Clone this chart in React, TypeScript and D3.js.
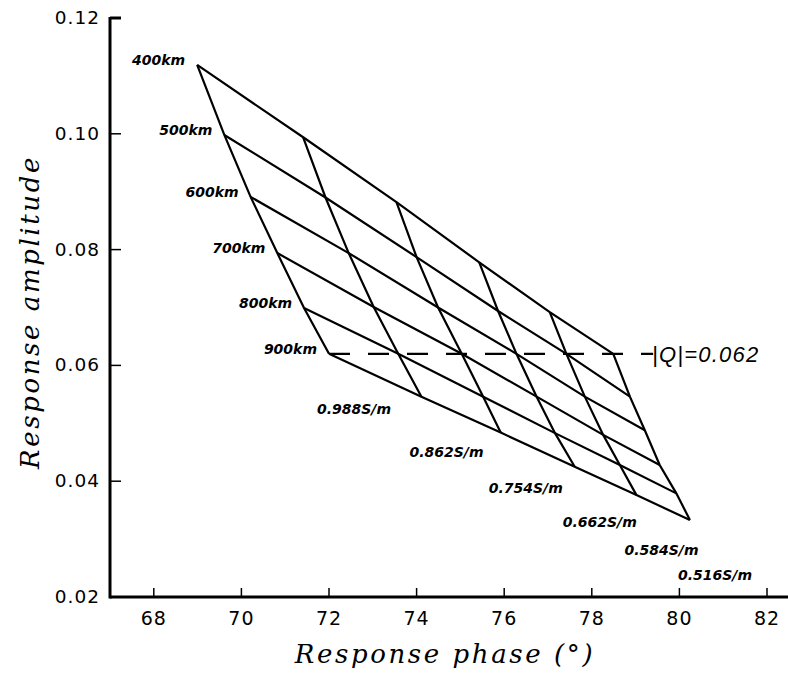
import React from "react";
import * as d3 from "d3";

// Depth labels (constant-depth curves) and conductivity labels (constant-conductivity curves)
const depthLabels = ["400km", "500km", "600km", "700km", "800km", "900km"];
const conductivityLabels = ["0.988S/m", "0.862S/m", "0.754S/m", "0.662S/m", "0.584S/m", "0.516S/m"];

// Response phase (deg) for each conductivity, ordered 400km..900km
const phase0988 = [68.99, 69.61, 70.21, 70.82, 71.43, 72.0];
const phase0862 = [71.41, 71.92, 72.45, 73.02, 73.58, 74.11];
const phase0754 = [73.54, 74.0, 74.49, 75.03, 75.52, 75.92];
const phase0662 = [75.43, 75.86, 76.28, 76.74, 77.16, 77.61];
const phase0584 = [77.04, 77.42, 77.84, 78.26, 78.64, 79.02];
const phase0516 = [78.49, 78.87, 79.21, 79.55, 79.93, 80.24];

// Response amplitude for each conductivity, ordered 400km..900km
const amp0988 = [0.1119, 0.0998, 0.0891, 0.0794, 0.0699, 0.062];
const amp0862 = [0.0994, 0.089, 0.0794, 0.0701, 0.062, 0.0546];
const amp0754 = [0.0882, 0.0787, 0.07, 0.062, 0.0546, 0.0484];
const amp0662 = [0.0778, 0.0694, 0.062, 0.0546, 0.0483, 0.0425];
const amp0584 = [0.0692, 0.062, 0.0546, 0.048, 0.0428, 0.0376];
const amp0516 = [0.062, 0.0546, 0.0488, 0.0428, 0.0379, 0.0333];

const xTicks = [68, 70, 72, 74, 76, 78, 80, 82];
const yTicks = [0.02, 0.04, 0.06, 0.08, 0.1, 0.12];

const qValue = 0.062;
const qPhaseStart = 72.0;
const qPhaseEnd = 79.4;
const qLabel = "|Q|=0.062";

const phases = [phase0988, phase0862, phase0754, phase0662, phase0584, phase0516];
const amps = [amp0988, amp0862, amp0754, amp0662, amp0584, amp0516];

export default function App() {
  const W = 788;
  const H = 675;
  const x = d3.scaleLinear().domain([67, 83]).range([110, 110 + 16 * 43.8]);
  const y = d3.scaleLinear().domain([0.02, 0.12]).range([597, 18]);

  const line = d3
    .line<[number, number]>()
    .x((d) => x(d[0]))
    .y((d) => y(d[1]));

  // conductivity curves
  const condPaths = phases.map((ph, c) => line(ph.map((p, i) => [p, amps[c][i]]) as [number, number][]));
  // depth curves
  const depthPaths = depthLabels.map((_, dIdx) =>
    line(phases.map((ph, c) => [ph[dIdx], amps[c][dIdx]]) as [number, number][])
  );

  const labelFont = "'DejaVu Sans', sans-serif";
  const serif = "'DejaVu Serif', serif";

  return (
    <svg
      width={W}
      height={H}
      style={{ position: "absolute", left: 0, top: 0, background: "#fff" }}
    >
      <rect x={0} y={0} width={W} height={H} fill="#fff" />
      {/* grid curves */}
      <g fill="none" stroke="#000" strokeWidth={2.2}>
        {condPaths.map((d, i) => (
          <path key={"c" + i} d={d || ""} />
        ))}
        {depthPaths.map((d, i) => (
          <path key={"d" + i} d={d || ""} />
        ))}
      </g>
      {/* |Q| dashed line */}
      <line
        x1={x(qPhaseStart)}
        x2={x(qPhaseEnd)}
        y1={y(qValue)}
        y2={y(qValue)}
        stroke="#000"
        strokeWidth={2.2}
        strokeDasharray="21,18"
      />
      <text
        x={x(qPhaseEnd) - 1}
        y={y(qValue) + 8}
        fontFamily="'Liberation Sans', sans-serif"
        fontStyle="italic"
        fontSize={22}
        letterSpacing={1.2}
      >
        {qLabel}
      </text>
      {/* depth labels */}
      {depthLabels.map((lab, i) => (
        <text
          key={lab}
          x={x(phase0988[i]) - 12}
          y={y(amp0988[i])}
          textAnchor="end"
          fontFamily={labelFont}
          fontWeight="bold"
          fontStyle="italic"
          fontSize={14}
        >
          {lab}
        </text>
      ))}
      {/* conductivity labels */}
      {conductivityLabels.map((lab, c) => (
        <text
          key={lab}
          x={x(phases[c][5]) - 12}
          y={y(amps[c][5]) + 60}
          fontFamily={labelFont}
          fontWeight="bold"
          fontStyle="italic"
          fontSize={14}
        >
          {lab}
        </text>
      ))}
      {/* axes */}
      <g stroke="#000">
        <line x1={x.range()[0]} x2={W + 10} y1={y(0.02)} y2={y(0.02)} strokeWidth={3} />
        <line x1={x.range()[0]} x2={x.range()[0]} y1={y(0.12) - 1} y2={y(0.02) + 1.5} strokeWidth={3} />
        {xTicks.map((t) => (
          <line key={"xt" + t} x1={x(t)} x2={x(t)} y1={y(0.02)} y2={y(0.02) - 9} strokeWidth={1.5} />
        ))}
        {yTicks.map((t) => (
          <line key={"yt" + t} x1={x.range()[0]} x2={x.range()[0] + 11} y1={y(t)} y2={y(t)} strokeWidth={t === 0.12 ? 3 : 1.5} />
        ))}
      </g>
      {xTicks.map((t) => (
        <text
          key={"xl" + t}
          x={x(t)}
          y={y(0.02) + 28}
          textAnchor="middle"
          fontFamily={labelFont}
          fontSize={19}
          letterSpacing={1}
        >
          {t}
        </text>
      ))}
      {yTicks.map((t) => (
        <text
          key={"yl" + t}
          x={100}
          y={y(t) + 6}
          textAnchor="end"
          fontFamily={labelFont}
          fontSize={18.5}
          letterSpacing={1}
        >
          {d3.format(".2f")(t)}
        </text>
      ))}
      <text
        x={445}
        y={663}
        textAnchor="middle"
        fontFamily={serif}
        fontStyle="italic"
        fontSize={26}
        letterSpacing={2.6}
      >
        Response phase (°)
      </text>
      <text
        transform={`translate(39,${312}) rotate(-90)`}
        textAnchor="middle"
        fontFamily={serif}
        fontStyle="italic"
        fontSize={26}
        letterSpacing={2.6}
      >
        Response amplitude
      </text>
    </svg>
  );
}
